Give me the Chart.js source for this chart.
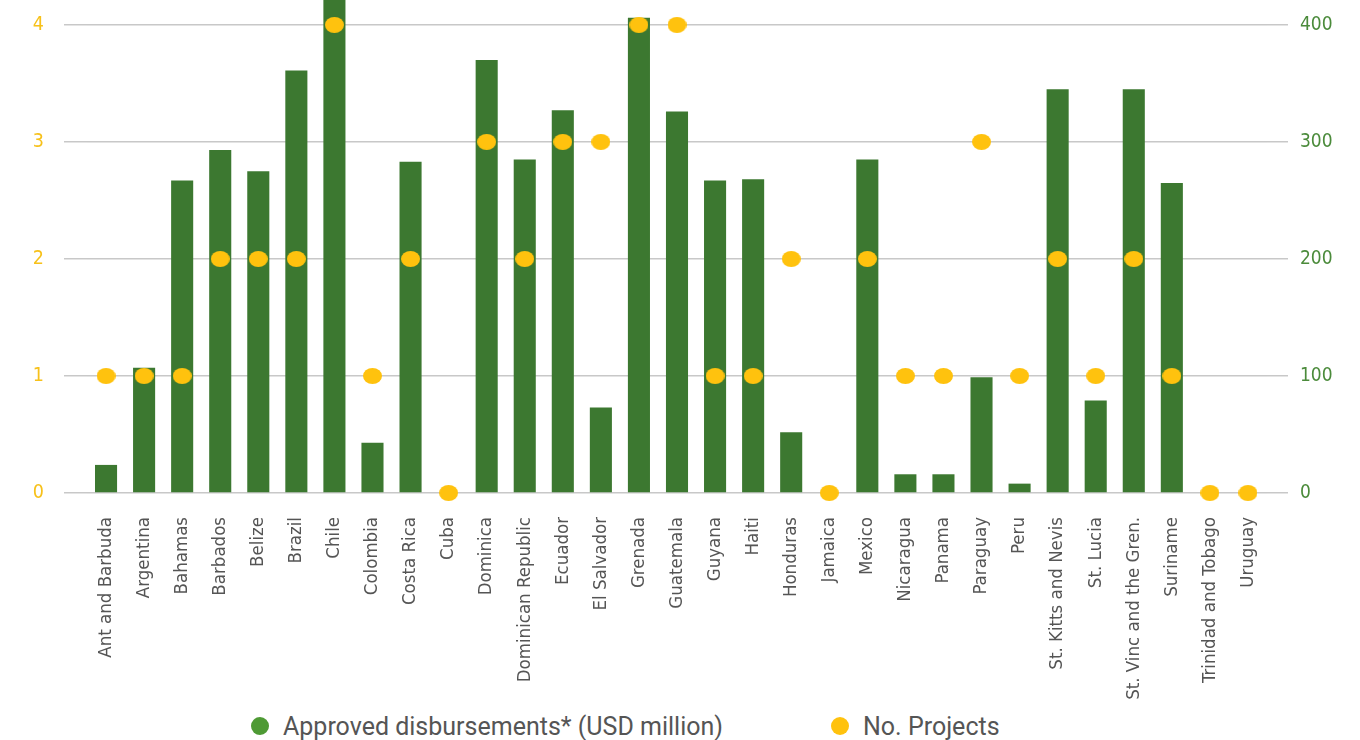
<!DOCTYPE html>
<html>
<head>
<meta charset="utf-8">
<title>Approved disbursements and projects by country</title>
<script src="https://cdn.jsdelivr.net/npm/chart.js@4.4.1/dist/chart.umd.min.js"></script>
<style>
    html, body { margin: 0; padding: 0; background: #fff; }
    #wrap { position: relative; width: 1360px; height: 740px; }
    #box { position: absolute; left: 0; top: 0; width: 1360px; height: 700px; }
    .lg-item { position: absolute; top: 711px; display: flex; align-items: center; height: 30px;
               font-family: Roboto, "Liberation Sans", sans-serif; font-size: 25px; color: #555; }
    .lg-dot { width: 18px; height: 18px; border-radius: 50%; margin-right: 14px; }
</style>
</head>
<body>
<div id="wrap">
    <div id="box"><canvas id="chart"></canvas></div>
    <div id="legend"></div>
</div>
<script>
/* Disbursements (bars, right axis) and number of projects (dots, left axis) per country */
var countries = [
    "Ant and Barbuda", "Argentina", "Bahamas", "Barbados", "Belize", "Brazil", "Chile",
    "Colombia", "Costa Rica", "Cuba", "Dominica", "Dominican Republic", "Ecuador",
    "El Salvador", "Grenada", "Guatemala", "Guyana", "Haiti", "Honduras", "Jamaica",
    "Mexico", "Nicaragua", "Panama", "Paraguay", "Peru", "St. Kitts and Nevis",
    "St. Lucia", "St. Vinc and the Gren.", "Suriname", "Trinidad and Tobago", "Uruguay"
];
var disbursements = [24, 107, 267, 293, 275, 361, 440, 43, 283, 0, 370, 285, 327,
    73, 406, 326, 267, 268, 52, 0, 285, 16, 16, 99, 8, 345, 79, 345, 265, 0, 0];
var projects = [1, 1, 1, 2, 2, 2, 4, 1, 2, 0, 3, 2, 3,
    3, 4, 4, 1, 1, 2, 0, 2, 1, 1, 3, 1, 2, 1, 2, 1, 0, 0];
var projectTicks = [0, 1, 2, 3, 4];
var disbTicks = [0, 100, 200, 300, 400];

var GREEN = "#3c7830";
var GREEN_LEGEND = "#4e9a34";
var GREEN_TICK = "#4b8b3b";
var YELLOW = "#ffc20e";
var GRID = "#c8c8c8";

var narrow = "'Liberation Sans Narrow', 'DejaVu Sans Condensed', Roboto, sans-serif";

/* slightly flattened dot used for the project markers */
function ellipseDot(w, h, color) {
    var c = document.createElement("canvas");
    c.width = w;
    c.height = h;
    var g = c.getContext("2d");
    g.fillStyle = color;
    g.beginPath();
    g.ellipse(w / 2, h / 2, w / 2, h / 2, 0, 0, Math.PI * 2);
    g.fill();
    return c;
}

/* vertical axes: fixed width, no extra room above/below for the end labels */
function fitVertical(width) {
    return function (s) {
        s.width = width;
        s.paddingTop = 0;
        s.paddingBottom = 0;
    };
}

var ctx = document.getElementById("chart").getContext("2d");
var chart = new Chart(ctx, {
    data: {
        labels: countries,
        datasets: [{
            type: "line",
            label: "No. Projects",
            data: projects,
            yAxisID: "y",
            showLine: false,
            pointStyle: ellipseDot(19, 16, YELLOW),
            backgroundColor: YELLOW,
            borderColor: YELLOW,
            clip: false,
            order: 0
        }, {
            type: "bar",
            label: "Approved disbursements* (USD million)",
            data: disbursements,
            yAxisID: "y1",
            backgroundColor: GREEN,
            categoryPercentage: 1,
            barPercentage: 0.58,
            // Chile runs past the top of the axis, let it reach the canvas edge
            clip: { left: 0, top: false, right: 0, bottom: 0 },
            order: 1
        }]
    },
    options: {
        responsive: true,
        maintainAspectRatio: false,
        animation: false,
        layout: { padding: 0 },
        plugins: {
            legend: { display: false },
            tooltip: { enabled: false }
        },
        scales: {
            x: {
                offset: true,
                grid: { display: false },
                border: { display: false },
                ticks: {
                    autoSkip: false,
                    minRotation: 90,
                    maxRotation: 90,
                    padding: 16,
                    color: "#555",
                    font: { family: narrow, size: 18.5 }
                },
                afterFit: function (s) { s.height = 207; }
            },
            y: {
                position: "left",
                min: 0,
                max: 4.17,
                afterBuildTicks: function (s) {
                    s.ticks = projectTicks.map(function (v) { return { value: v }; });
                },
                ticks: { color: "#f7c11a", padding: 20, font: { family: narrow, size: 19.5 } },
                grid: { color: GRID, lineWidth: 1.5, tickLength: 23 },
                border: { display: false },
                afterFit: fitVertical(87)
            },
            y1: {
                position: "right",
                min: 0,
                max: 417,
                afterBuildTicks: function (s) {
                    s.ticks = disbTicks.map(function (v) { return { value: v }; });
                },
                ticks: { color: GREEN_TICK, padding: 12, font: { family: narrow, size: 19 } },
                grid: { drawOnChartArea: false, color: GRID, lineWidth: 1.5, tickLength: 21 },
                border: { display: false },
                afterFit: fitVertical(93)
            }
        }
    }
});

/* legend below the plot */
var legendEl = document.getElementById("legend");
var legendItems = [
    { ds: 1, color: GREEN_LEGEND, left: 251 },
    { ds: 0, color: YELLOW, left: 831 }
];
legendItems.forEach(function (it) {
    var item = document.createElement("div");
    item.className = "lg-item";
    item.style.left = it.left + "px";
    var dot = document.createElement("span");
    dot.className = "lg-dot";
    dot.style.background = it.color;
    var txt = document.createElement("span");
    txt.textContent = chart.data.datasets[it.ds].label;
    item.appendChild(dot);
    item.appendChild(txt);
    legendEl.appendChild(item);
});
</script>
</body>
</html>
